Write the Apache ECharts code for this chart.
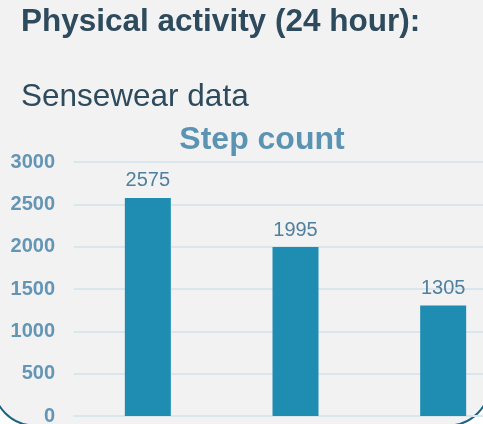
<!DOCTYPE html>
<html lang="en">

<head>
    <meta charset="UTF-8">
    <title>Step count</title>
    <script src="https://cdn.jsdelivr.net/npm/echarts@6/dist/echarts.min.js"></script>
    <style>
        html, body { margin: 0; padding: 0; background: #ffffff; }
    </style>
</head>

<body>
    <div id="demo1" style="width: 483px;height: 424px;"></div>

    <script>
        // data
        let categories = ['A', 'B', 'C'];
        let stepCounts = [2575, 1995, 1305];
        let yTicks = [0, 500, 1000, 1500, 2000, 2500, 3000];

        let myChart = echarts.init(document.getElementById('demo1'));

        let option = {
            backgroundColor: '#ffffff',
            animation: false,
            graphic: [
                {
                    // rounded panel behind everything
                    type: 'rect',
                    z: -10,
                    shape: { x: -7, y: -22, width: 497, height: 447.5, r: 42 },
                    style: { fill: '#f2f2f2', stroke: '#1b6283', lineWidth: 2 }
                },
                {
                    type: 'text',
                    x: 21, y: 22,
                    style: {
                        text: 'Physical activity (24 hour):',
                        font: 'bold 31.5px "Liberation Sans", Arial, sans-serif',
                        fill: '#2e4a5d',
                        textVerticalAlign: 'middle'
                    }
                },
                {
                    type: 'text',
                    x: 21, y: 97.5,
                    style: {
                        text: 'Sensewear data',
                        font: '31.5px "Liberation Sans", Arial, sans-serif',
                        fill: '#2e4a5d',
                        textVerticalAlign: 'middle'
                    }
                },
                {
                    type: 'text',
                    x: 262, y: 140,
                    style: {
                        text: 'Step count',
                        font: 'bold 32px "Liberation Sans", Arial, sans-serif',
                        fill: '#5b93b3',
                        textAlign: 'center',
                        textVerticalAlign: 'middle'
                    }
                }
            ],
            grid: {
                left: 74,
                top: 162,
                bottom: 8,
                right: -34,
                outerBoundsMode: 'none'
            },
            xAxis: {
                type: 'category',
                data: categories,
                axisLine: { show: true, lineStyle: { color: '#d9e6ee', width: 2 } },
                axisTick: { show: false },
                axisLabel: { show: false }
            },
            yAxis: {
                type: 'value',
                min: yTicks[0],
                max: yTicks[yTicks.length - 1],
                interval: 500,
                axisLine: { show: false },
                axisTick: { show: false },
                splitLine: { lineStyle: { color: '#d9e6ee', width: 2 } },
                axisLabel: {
                    margin: 19,
                    color: '#6395b5',
                    fontSize: 20,
                    fontWeight: 'bold',
                    fontFamily: '"Liberation Sans", Arial, sans-serif',
                    formatter: function (v) { return String(v); }
                }
            },
            series: [{
                name: 'Step count',
                type: 'bar',
                data: stepCounts,
                barWidth: 46,
                itemStyle: { color: '#1f8db2' },
                label: {
                    show: true,
                    position: 'top',
                    distance: 7,
                    color: '#50809e',
                    fontSize: 20,
                    fontFamily: '"Liberation Sans", Arial, sans-serif'
                }
            }]
        };

        myChart.setOption(option);
    </script>
</body>

</html>
